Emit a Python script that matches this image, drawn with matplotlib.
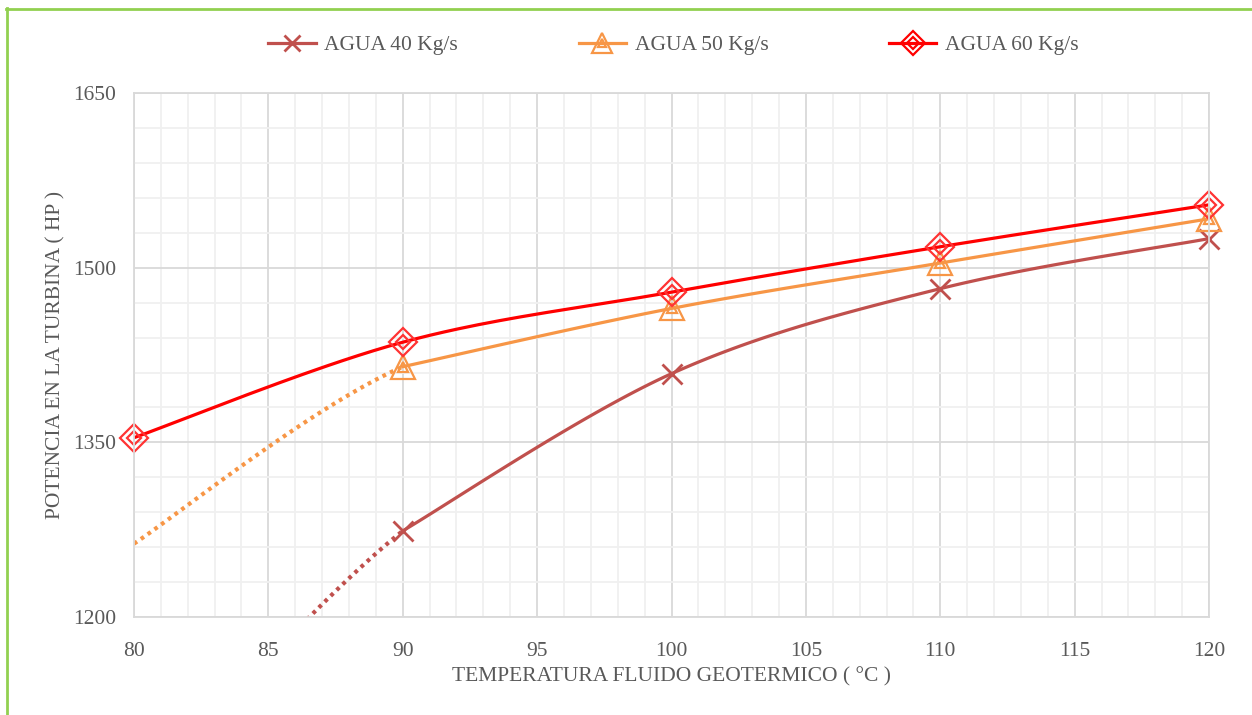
import numpy as np
import matplotlib
matplotlib.use('Agg')
import matplotlib.pyplot as plt
from matplotlib.lines import Line2D
from matplotlib.legend_handler import HandlerTuple

plt.rcParams['font.family'] = ['Liberation Serif', 'DejaVu Serif']

# temperature (°C) and turbine power (HP)
temp = [80, 90, 100, 110, 120]
agua_40 = [1040, 1274, 1409, 1482, 1525]   # value at 80 lies below the axis
agua_50 = [1263, 1415, 1465, 1504, 1542]
agua_60 = [1354, 1436, 1479, 1518, 1554]

x_ticks = [80, 85, 90, 95, 100, 105, 110, 115, 120]
y_ticks = [1200, 1350, 1500, 1650]
labels = ['AGUA 40 Kg/s', 'AGUA 50 Kg/s', 'AGUA 60 Kg/s']

c40 = '#C0504D'
c50 = '#F79646'
c60 = '#FF0000'
txt = '#595959'
fs = 15.5


def smooth(xs, ys, n=40):
    # Excel-like smoothed line (Catmull-Rom as cubic Bezier)
    p = np.column_stack([xs, ys]).astype(float)
    pts = []
    for i in range(len(p) - 1):
        p0 = p[i - 1] if i > 0 else p[i]
        p1, p2 = p[i], p[i + 1]
        p3 = p[i + 2] if i + 2 < len(p) else p[i + 1]
        c1 = p1 + (p2 - p0) / 6
        c2 = p2 - (p3 - p1) / 6
        t = np.linspace(0, 1, n)[:, None]
        seg = (1 - t) ** 3 * p1 + 3 * (1 - t) ** 2 * t * c1 + 3 * (1 - t) * t ** 2 * c2 + t ** 3 * p2
        pts.append(seg if i == 0 else seg[1:])
    s = np.vstack(pts)
    return s[:, 0], s[:, 1]


fig = plt.figure(figsize=(12.52, 7.15), dpi=100)
ax = fig.add_axes([0.107, 0.137, 0.8587, 0.7329])

ax.set_xlim(80, 120)
ax.set_ylim(1200, 1650)
ax.set_xticks(x_ticks)
ax.set_yticks(y_ticks)
ax.set_xticks(np.arange(80, 121, 1), minor=True)
ax.set_yticks(np.arange(1200, 1651, 30), minor=True)
ax.grid(which='major', color='#D9D9D9', lw=1.3)
ax.grid(which='minor', color='#F0F0F0', lw=1.3)
ax.set_axisbelow(True)
for s in ax.spines.values():
    s.set_color('#D9D9D9')
    s.set_linewidth(1.3)
ax.tick_params(which='both', length=0, labelsize=fs, colors=txt)
ax.tick_params(axis='x', pad=18)
ax.tick_params(axis='y', pad=13)

# solid smoothed curves from 90 °C on, dotted extension back to 80 °C
for ys, col in [(agua_40, c40), (agua_50, c50), (agua_60, c60)]:
    if col == c60:
        sx, sy = smooth(temp, ys)
        ax.plot(sx, sy, color=col, lw=2.3)
    else:
        sx, sy = smooth(temp, ys)
        m = sx <= 90
        ax.plot(sx[m], sy[m], color=col, lw=3, ls=(0, (0.9, 1.1)))
        sx, sy = smooth(temp[1:], ys[1:])
        ax.plot(sx, sy, color=col, lw=2.3)

# markers
ax.plot(temp[1:], agua_40[1:], ls='none', marker='x', ms=15, mew=2, color=c40, clip_on=False)
ax.plot(temp[1:], agua_50[1:], ls='none', marker='^', ms=17, mew=1.6, mfc='none', mec=c50, clip_on=False)
ax.plot(temp[1:], agua_50[1:], ls='none', marker='^', ms=7, mew=1.6, mfc='none', mec=c50, clip_on=False)
ax.plot(temp, agua_60, ls='none', marker='D', ms=14, mew=1.6, mfc='none', mec='#FF3333', clip_on=False)
ax.plot(temp, agua_60, ls='none', marker='D', ms=7, mew=1.6, mfc='none', mec='#FF3333', clip_on=False)

ax.set_xlabel('TEMPERATURA FLUIDO GEOTERMICO ( °C )', fontsize=fs, color=txt, labelpad=4)
ax.set_ylabel('POTENCIA EN LA TURBINA ( HP )', fontsize=fs, color=txt, labelpad=5)

# legend
h40 = Line2D([], [], color=c40, lw=2.3, marker='x', ms=11, mew=2)
h50 = (Line2D([], [], color=c50, lw=2.3, marker='^', ms=14, mew=1.6, mfc='none'),
       Line2D([], [], ls='none', marker='^', ms=6, mew=1.6, mfc='none', mec=c50))
h60 = (Line2D([], [], color=c60, lw=2.3, marker='D', ms=12, mew=1.6, mfc='none'),
       Line2D([], [], ls='none', marker='D', ms=6, mew=1.6, mfc='none', mec=c60))
fig.legend([h40, h50, h60], labels, loc='center', bbox_to_anchor=(0.538, 0.937), ncol=3,
           frameon=False, fontsize=fs, labelcolor=txt, handlelength=2.2, handletextpad=0.4,
           columnspacing=5.6, handler_map={tuple: HandlerTuple(ndivide=1)})

# green frame around the chart
fig.add_artist(Line2D([6 / 1252, 1], [1 - 8.5 / 715] * 2, color='#92D050', lw=2, transform=fig.transFigure))
fig.add_artist(Line2D([7 / 1252] * 2, [0, 1 - 8 / 715], color='#92D050', lw=2, transform=fig.transFigure))

fig.savefig('out.png', dpi=100)
